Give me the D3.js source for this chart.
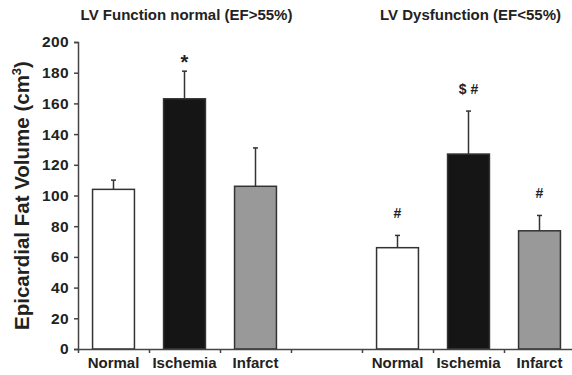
<!DOCTYPE html>
<html>
<head>
<meta charset="utf-8">
<script src="https://cdn.jsdelivr.net/npm/d3@7"></script>
<style>
  body { margin: 0; background: #fff; }
  text { font-family: "Liberation Sans", Arial, sans-serif; font-weight: bold; }
</style>
</head>
<body>
<div id="chart"></div>
<script>
// data
const groups = ["LV Function normal (EF>55%)", "LV Dysfunction (EF<55%)"];
const categories = ["Normal", "Ischemia", "Infarct"];
const meansNormalEF = [104, 163, 106];
const upperNormalEF = [110, 181, 131];
const meansLowEF = [66, 127, 77];
const upperLowEF = [74, 155, 87];
const marksNormalEF = ["", "*", ""];
const marksLowEF = ["#", "$ #", "#"];
const yTicks = [0, 20, 40, 60, 80, 100, 120, 140, 160, 180, 200];

const fills = ["#ffffff", "#151515", "#999999"];

const W = 572, H = 375;
const margin = {top: 42, left: 78, bottom: 26};

const svg = d3.select("#chart").append("svg")
    .attr("width", W).attr("height", H);

// 7 slots: 3 bars, an empty gap, 3 bars
const x = d3.scaleLinear().domain([0, 7]).range([margin.left, 575]);
const y = d3.scaleLinear().domain([0, 200]).range([H - margin.bottom, margin.top]);

const rows = [];
[[meansNormalEF, upperNormalEF, marksNormalEF], [meansLowEF, upperLowEF, marksLowEF]]
    .forEach(([m, u, k], g) => {
        m.forEach((v, i) => {
            rows.push({slot: g * 4 + i, cat: categories[i], mean: v, upper: u[i], mark: k[i], fill: fills[i]});
        });
    });

const barW = 0.59 * (x(1) - x(0));

// bars
svg.selectAll("rect.bar")
    .data(rows)
    .enter().append("rect")
    .attr("class", "bar")
    .attr("x", d => x(d.slot + 0.5) - barW / 2)
    .attr("width", barW)
    .attr("y", d => y(d.mean))
    .attr("height", d => y(0) - y(d.mean))
    .attr("fill", d => d.fill)
    .attr("stroke", "#333")
    .attr("stroke-width", 1.5);

// error bars (upper only)
svg.selectAll("line.err")
    .data(rows)
    .enter().append("line")
    .attr("x1", d => x(d.slot + 0.5)).attr("x2", d => x(d.slot + 0.5))
    .attr("y1", d => y(d.mean)).attr("y2", d => y(d.upper))
    .attr("stroke", "#333").attr("stroke-width", 1.5);
svg.selectAll("line.cap")
    .data(rows)
    .enter().append("line")
    .attr("x1", d => x(d.slot + 0.5) - 2.5).attr("x2", d => x(d.slot + 0.5) + 2.5)
    .attr("y1", d => y(d.upper)).attr("y2", d => y(d.upper))
    .attr("stroke", "#333").attr("stroke-width", 1.5);

// significance marks
svg.selectAll("text.mark")
    .data(rows.filter(d => d.mark))
    .enter().append("text")
    .attr("x", d => x(d.slot + 0.5))
    .attr("y", d => y(d.upper) - (d.mark === "*" ? 2 : 17))
    .attr("text-anchor", "middle")
    .attr("font-size", d => d.mark === "*" ? 20 : 14)
    .attr("fill", "#222")
    .text(d => d.mark);

// axes
const axisY = svg.append("g")
    .attr("transform", `translate(${margin.left},0)`)
    .call(d3.axisLeft(y).tickValues(yTicks).tickSize(4).tickPadding(5));
const axisX = svg.append("g")
    .attr("transform", `translate(0,${y(0)})`)
    .call(d3.axisBottom(x).tickValues([1, 2, 3, 4, 5, 6, 7]).tickSize(4).tickFormat(""));

[axisX, axisY].forEach(a => {
    a.select(".domain").attr("stroke", "#444").attr("stroke-width", 1.5);
    a.selectAll("line").attr("stroke", "#444").attr("stroke-width", 1.5);
});
axisY.selectAll("text")
    .attr("font-size", 15.5)
    .attr("font-family", "Liberation Sans, Arial, sans-serif")
    .attr("font-weight", "bold")
    .attr("letter-spacing", 0.4)
    .attr("fill", "#222");

// category labels
svg.selectAll("text.cat")
    .data(rows)
    .enter().append("text")
    .attr("x", d => x(d.slot + 0.5))
    .attr("y", 368)
    .attr("text-anchor", "middle")
    .attr("font-size", 15)
    .attr("fill", "#222")
    .text(d => d.cat);

// group titles
groups.forEach((g, i) => {
    svg.append("text")
        .attr("x", x(i * 4 + 1.5) + 2)
        .attr("y", 20)
        .attr("text-anchor", "middle")
        .attr("font-size", 15)
        .attr("fill", "#222")
        .text(g);
});

// y axis title
const yt = svg.append("text")
    .attr("transform", `translate(29,${(y(0) + y(200)) / 2}) rotate(-90)`)
    .attr("text-anchor", "middle")
    .attr("font-size", 20.5)
    .attr("fill", "#222");
yt.append("tspan").text("Epicardial Fat Volume (cm");
yt.append("tspan").attr("font-size", 13).attr("dy", -8).text("3");
yt.append("tspan").attr("dy", 8).text(")");
</script>
</body>
</html>
